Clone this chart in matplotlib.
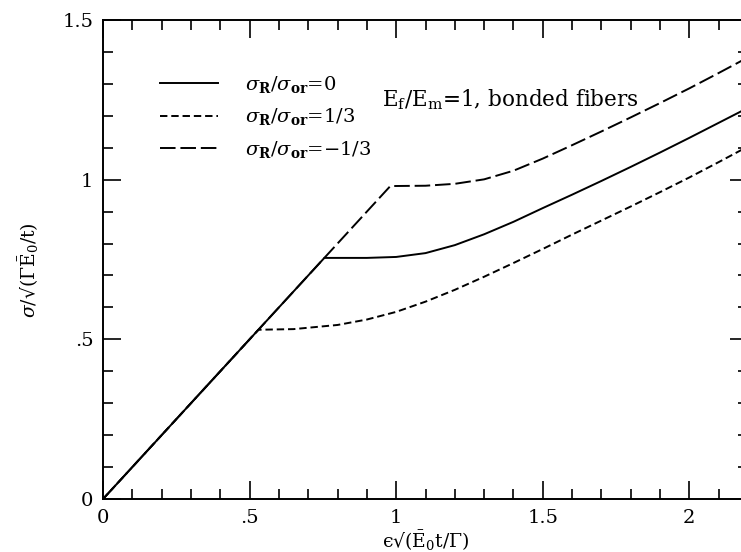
import matplotlib
matplotlib.use("Agg")
import matplotlib.pyplot as plt
from matplotlib.ticker import MultipleLocator, FixedLocator, FixedFormatter

plt.rcParams['font.family'] = ['DejaVu Serif']
plt.rcParams['mathtext.fontset'] = 'dejavuserif'

# --- data ---
x_zero = [0, 0.755, 0.9, 1.0, 1.1, 1.2, 1.3, 1.4, 1.5, 1.6, 1.7, 1.8, 1.9, 2.0, 2.1, 2.2]
y_zero = [0, 0.755, 0.755, 0.758, 0.770, 0.795, 0.829, 0.868, 0.911, 0.953, 0.996, 1.040, 1.085, 1.131, 1.178, 1.225]

x_third = [0, 0.53, 0.65, 0.8, 0.9, 1.0, 1.1, 1.2, 1.3, 1.4, 1.5, 1.6, 1.7, 1.8, 1.9, 2.0, 2.1, 2.2]
y_third = [0, 0.53, 0.532, 0.545, 0.562, 0.586, 0.618, 0.655, 0.696, 0.739, 0.783, 0.828, 0.872, 0.916, 0.961, 1.007, 1.055, 1.104]

x_mthird = [0, 0.98, 1.1, 1.2, 1.3, 1.4, 1.5, 1.6, 1.7, 1.8, 1.9, 2.0, 2.1, 2.2]
y_mthird = [0, 0.98, 0.981, 0.987, 1.001, 1.028, 1.066, 1.108, 1.151, 1.195, 1.240, 1.286, 1.334, 1.383]

labels = [r'$\sigma_\mathbf{R}/\sigma_\mathbf{or}$=0',
          r'$\sigma_\mathbf{R}/\sigma_\mathbf{or}$=1/3',
          r'$\sigma_\mathbf{R}/\sigma_\mathbf{or}$=$-$1/3']

xticks = [0, 0.5, 1, 1.5, 2]
xticklabels = ['0', '.5', '1', '1.5', '2']
yticks = [0, 0.5, 1, 1.5]
yticklabels = ['0', '.5', '1', '1.5']

W, H = 741, 552
fig = plt.figure(figsize=(W / 100, H / 100), dpi=100)
left, right, top, bottom = 103, 748, 20, 499
ax = fig.add_axes([left / W, (H - bottom) / H, (right - left) / W, (bottom - top) / H])

lw = 1.4
ax.plot(x_zero, y_zero, color='black', lw=lw, ls='-', label=labels[0])
ax.plot(x_third, y_third, color='black', lw=lw, ls=(0, (3.8, 2.0)), label=labels[1])
ax.plot(x_mthird, y_mthird, color='black', lw=lw, ls=(0, (8, 2.5)), label=labels[2])

ax.set_xlim(0, 2.2)
ax.set_ylim(0, 1.5)
ax.xaxis.set_major_locator(FixedLocator(xticks))
ax.xaxis.set_major_formatter(FixedFormatter(xticklabels))
ax.yaxis.set_major_locator(FixedLocator(yticks))
ax.yaxis.set_major_formatter(FixedFormatter(yticklabels))
ax.xaxis.set_minor_locator(MultipleLocator(0.1))
ax.yaxis.set_minor_locator(MultipleLocator(0.1))
ax.tick_params(which='both', direction='in', top=True, right=True, width=1.2, labelsize=14)
ax.tick_params(which='major', length=13)
ax.tick_params(which='minor', length=7)
ax.tick_params(axis='x', pad=7)
ax.tick_params(axis='y', pad=7)
for s in ax.spines.values():
    s.set_linewidth(1.4)

ax.set_xlabel('ϵ√($\\bar{\\mathrm{E}}_0$t/$\\Gamma$)', fontsize=13.5, labelpad=0)
ax.xaxis.set_label_coords(0.5, -0.063)
ax.set_ylabel('$\\sigma$/√($\\Gamma\\bar{\\mathrm{E}}_0$/t)', fontsize=13.5)
ax.yaxis.set_label_coords((41 - left) / (right - left), 0.478)

leg = ax.legend(loc='upper left', bbox_to_anchor=(0.088, 0.888), frameon=False,
                fontsize=14, handlelength=3.0, handletextpad=1.4, labelspacing=0.6,
                borderpad=0, borderaxespad=0)

ax.text((382 - left) / (right - left), (bottom - 100) / (bottom - top),
        r'$\mathrm{E_f/E_m}$=1, bonded fibers', fontsize=15.5, ha='left', va='center',
        transform=ax.transAxes)

fig.savefig('out.png', dpi=100)
